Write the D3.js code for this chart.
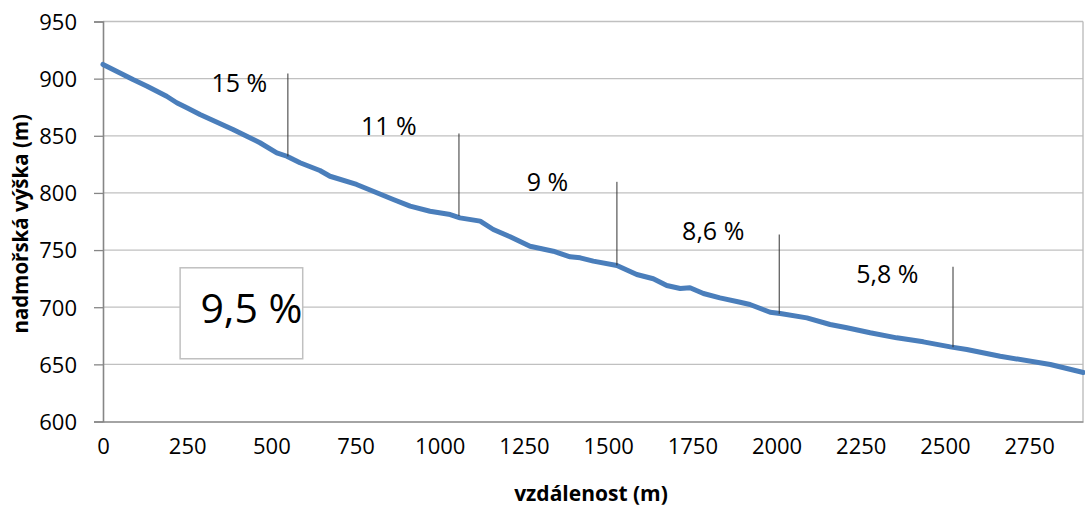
<!DOCTYPE html>
<html>
<head>
<meta charset="utf-8">
<script src="https://cdn.jsdelivr.net/npm/d3@7"></script>
<style>
  html, body { margin: 0; padding: 0; background: #fff; }
  svg { display: block; }
  text { font-family: "Open Sans", "Liberation Sans", sans-serif; fill: #000; }
</style>
</head>
<body>
<svg id="chart" width="1085" height="512"></svg>
<script>
// ---- data ----
const distance = [0, 89, 131, 189, 219, 249, 288, 386, 427, 466, 516, 546, 585, 644, 674, 753, 813, 862, 912, 971, 1031, 1060, 1120, 1159, 1209, 1268, 1337, 1387, 1417, 1456, 1526, 1585, 1634, 1674, 1714, 1743, 1783, 1832, 1892, 1921, 1981, 2011, 2090, 2159, 2209, 2278, 2357, 2436, 2516, 2565, 2664, 2813, 2911];
const elevation = [912.4, 899.2, 893.4, 884.6, 878.9, 874.5, 868.6, 855.5, 849.6, 843.9, 835.1, 832.1, 826.4, 819.6, 814.6, 807.4, 800.1, 794.2, 788.4, 784.0, 781.1, 778.2, 775.3, 768.0, 761.6, 753.4, 749.0, 744.1, 743.2, 740.3, 736.5, 728.6, 724.9, 719.0, 716.4, 717.0, 712.0, 708.2, 704.4, 702.4, 695.6, 694.5, 690.7, 684.9, 682.0, 677.6, 673.2, 669.7, 665.3, 663.0, 657.1, 649.9, 642.9];

const xTicks = [0, 250, 500, 750, 1000, 1250, 1500, 1750, 2000, 2250, 2500, 2750];
const yTicks = [600, 650, 700, 750, 800, 850, 900, 950];
const xTitle = "vzdálenost (m)";
const yTitle = "nadmořská výška (m)";

// section gradient markers
const markerLabels = ["15 %", "11 %", "9 %", "8,6 %", "5,8 %"];
const markerDist   = [549, 1057, 1526, 2008, 2524];
const markerTop    = [904.5, 852.0, 809.7, 763.6, 735.4];
const markerBottom = [831.9, 780.0, 736.6, 694.2, 665.0];
const labelDist    = [405, 849, 1320, 1812, 2329];
const labelElev    = [887.9, 850.3, 801.3, 758.4, 721.6];

// overall gradient box
const boxText = "9,5 %";
const boxDist = [229, 593];
const boxElev = [734.5, 654.9];

// ---- layout ----
const svg = d3.select("#chart");
const x = d3.scaleLinear().domain([0, 2910]).range([103, 1083]);
const y = d3.scaleLinear().domain([600, 950]).range([421.5, 21.5]);

// gridlines
svg.append("g").selectAll("line").data(yTicks.filter(d => d > 600)).join("line")
  .attr("x1", x(0)).attr("x2", x.range()[1])
  .attr("y1", d => y(d)).attr("y2", d => y(d))
  .attr("stroke", "#c0c0c0").attr("stroke-width", 1.3);

// right border of plot area
svg.append("line")
  .attr("x1", x.range()[1]).attr("x2", x.range()[1])
  .attr("y1", y(950)).attr("y2", y(600))
  .attr("stroke", "#b8b8b8").attr("stroke-width", 1.3);

// y axis
const yAxis = d3.axisLeft(y).tickValues(yTicks).tickSize(9).tickPadding(17).tickFormat(d3.format("d"));
const gy = svg.append("g").attr("transform", `translate(${x(0)},0)`).call(yAxis);
gy.select(".domain").attr("stroke", "#868686").attr("stroke-width", 1.6);
gy.selectAll(".tick line").attr("stroke", "#868686").attr("stroke-width", 1.3);
gy.selectAll(".tick text").style("font-size", "22px").attr("dy", "0.36em");

// x axis
const xAxis = d3.axisBottom(x).tickValues(xTicks).tickSize(0).tickPadding(26).tickFormat(d3.format("d"));
const gx = svg.append("g").attr("transform", `translate(0,${y(600)})`).call(xAxis);
gx.select(".domain").attr("stroke", "#868686").attr("stroke-width", 1.6);
gx.selectAll(".tick text").style("font-size", "22px").attr("dy", "0.3em");

// axis titles
svg.append("text").attr("x", 591).attr("y", 501).attr("text-anchor", "middle")
  .style("font-size", "21px").style("font-weight", "bold").text(xTitle);
svg.append("text").attr("transform", `translate(28,${y(773)}) rotate(-90)`).attr("text-anchor", "middle")
  .style("font-size", "20.5px").style("font-weight", "bold").text(yTitle);

// box annotation
svg.append("rect")
  .attr("x", x(boxDist[0])).attr("y", y(boxElev[0]))
  .attr("width", x(boxDist[1]) - x(boxDist[0])).attr("height", y(boxElev[1]) - y(boxElev[0]))
  .attr("fill", "#fff").attr("stroke", "#c0c0c0").attr("stroke-width", 1.5);
svg.append("text")
  .attr("x", (x(boxDist[0]) + x(boxDist[1])) / 2 + 10).attr("y", (y(boxElev[0]) + y(boxElev[1])) / 2 + 10)
  .attr("text-anchor", "middle").style("font-size", "41px").text(boxText);

// profile line
const line = d3.line().x((d, i) => x(distance[i])).y((d, i) => y(elevation[i])).curve(d3.curveLinear);
svg.append("path").datum(distance).attr("d", line)
  .attr("fill", "none").attr("stroke", "#4a7ebb").attr("stroke-width", 5)
  .attr("stroke-linejoin", "round").attr("stroke-linecap", "round");

// markers
svg.append("g").selectAll("line").data(markerDist).join("line")
  .attr("x1", d => x(d)).attr("x2", d => x(d))
  .attr("y1", (d, i) => y(markerTop[i])).attr("y2", (d, i) => y(markerBottom[i]))
  .attr("stroke", "#333").attr("stroke-width", 1);

svg.append("g").selectAll("text").data(markerLabels).join("text")
  .attr("x", (d, i) => x(labelDist[i])).attr("y", (d, i) => y(labelElev[i]))
  .attr("text-anchor", "middle").style("font-size", "25px").text(d => d);
</script>
</body>
</html>
